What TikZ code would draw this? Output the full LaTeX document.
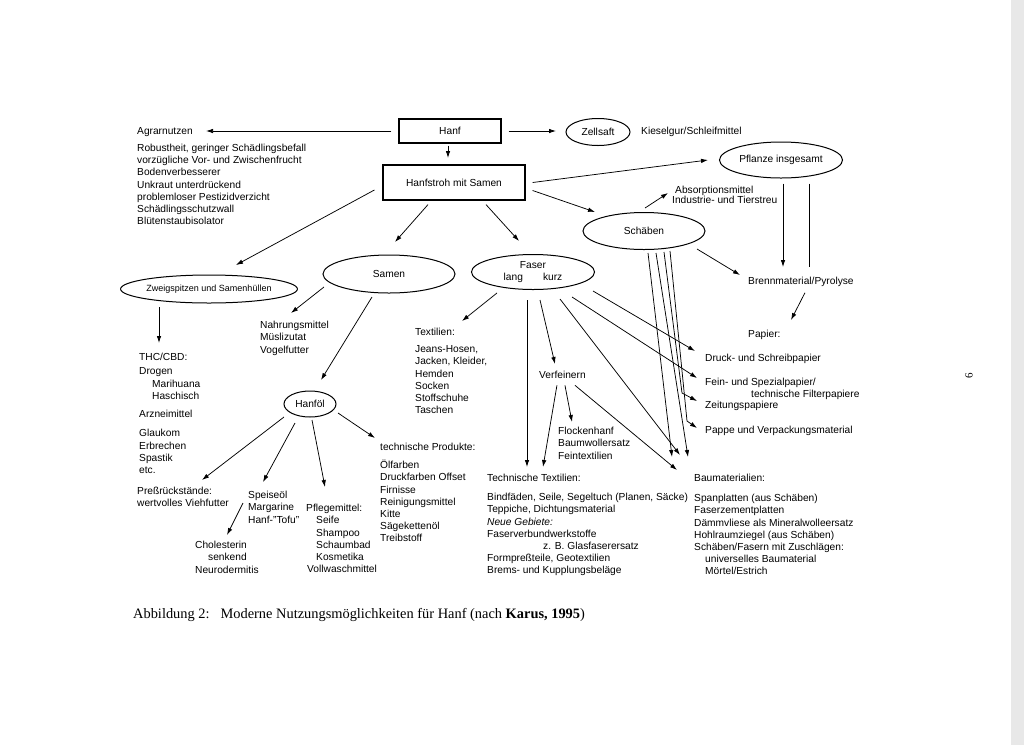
\documentclass[tikz,border=0pt]{standalone}
\usepackage{fontspec}
\setmainfont{Liberation Serif}
\setsansfont{Liberation Sans}
\usetikzlibrary{arrows.meta,shapes.geometric}
\tikzset{
  txt/.style={font=\sffamily\fontsize{10.2}{12.2}\selectfont,inner sep=0pt,align=left,anchor=north west,execute at begin node=\strut},
  word/.style={font=\sffamily\fontsize{10.2}{12.2}\selectfont,inner sep=0pt,anchor=base west},
  box/.style={draw,line width=1.2pt,inner sep=0pt,font=\sffamily\fontsize{10.2}{12.2}\selectfont},
  oval/.style={draw,ellipse,line width=1pt,inner sep=0pt,font=\sffamily\fontsize{10.2}{12.2}\selectfont},
  link/.style={-{Latex[length=7pt,width=4.5pt]},line width=0.75pt},
  bare/.style={line width=0.75pt}
}
\begin{document}
\begin{tikzpicture}[x=1pt,y=-1pt]
  \fill[white] (0,0) rectangle (1024,745);
  \useasboundingbox (0,0) rectangle (1024,745);
  \fill[black!9] (1011,0) rectangle (1024,745);

  \node[box,minimum width=102pt,minimum height=24pt] (hanf) at (450,131) {Hanf};
  \node[box,minimum width=142pt,minimum height=35pt] (stroh) at (454,182.5) {Hanfstroh mit Samen};
  \node[oval,minimum width=64pt,minimum height=27pt] (zellsaft) at (598,132) {Zellsaft};
  \node[oval,minimum width=123pt,minimum height=36pt] (pflanze) at (781,160) {Pflanze insgesamt};
  \node[oval,minimum width=122pt,minimum height=37pt] (schaeben) at (644,231) {Schäben};
  \node[oval,minimum width=147pt,minimum height=28pt,font=\sffamily\fontsize{9}{11}\selectfont] (zweig) at (209,289) {Zweigspitzen und Samenhüllen};
  \node[oval,minimum width=132pt,minimum height=38pt] (samen) at (389,274) {Samen};
  \node[oval,minimum width=123pt,minimum height=35pt,align=center] (faser) at (533,272) {Faser\\lang\hspace{20pt}kurz};
  \node[oval,minimum width=52pt,minimum height=26pt] (hanfoel) at (310,404) {Hanföl};

  \node[word] (agrar) at (137,134.5) {Agrarnutzen};
  \node[word] (kiesel) at (641,134.5) {Kieselgur/Schleifmittel};
  \node[word] (brenn) at (748,284.5) {Brennmaterial/Pyrolyse};
  \node[word] (papier) at (748,337.5) {Papier:};
  \node[word] (druck) at (705,361.5) {Druck- und Schreibpapier};
  \node[word] (fein) at (705,385.5) {Fein- und Spezialpapier/};
  \node[word] (filter) at (751,397.5) {technische Filterpapiere};
  \node[word] (zeitung) at (705,408.5) {Zeitungspapiere};
  \node[word] (pappe) at (705,433.5) {Pappe und Verpackungsmaterial};
  \node[word] (verf) at (539,378.5) {Verfeinern};

  \node[txt] (agrarlist) at (137,144) {Robustheit, geringer Schädlingsbefall\\
    vorzügliche Vor- und Zwischenfrucht\\Bodenverbesserer\\Unkraut unterdrückend\\
    problemloser Pestizidverzicht\\Schädlingsschutzwall\\Blütenstaubisolator};
  \node[txt] (absorb) at (672,186) {\hspace*{3pt}Absorptionsmittel\\[-2.2pt]Industrie- und Tierstreu};
  \node[txt] (thc) at (139,353) {THC/CBD:\\[1.8pt]Drogen\\[0.8pt]\hspace*{13pt}Marihuana\\
    \hspace*{13pt}Haschisch\\[5.8pt]Arzneimittel\\[6.8pt]Glaukom\\Erbrechen\\Spastik\\etc.};
  \node[txt] (nahrung) at (260,321) {Nahrungsmittel\\Müslizutat\\Vogelfutter};
  \node[txt] (textil) at (415,328) {Textilien:\\[4.8pt]Jeans-Hosen,\\Jacken, Kleider,\\
    Hemden\\Socken\\Stoffschuhe\\Taschen};
  \node[txt] (flocken) at (558,427) {Flockenhanf\\Baumwollersatz\\Feintextilien};
  \node[txt] (techprod) at (380,443) {technische Produkte:\\[5.8pt]Ölfarben\\Druckfarben Offset\\
    Firnisse\\Reinigungsmittel\\Kitte\\Sägekettenöl\\Treibstoff};
  \node[txt] (press) at (137,487) {Preßrückstände:\\wertvolles Viehfutter};
  \node[txt] (speise) at (248,491) {Speiseöl\\Margarine\\Hanf-"Tofu"};
  \node[txt] (chol) at (195,541) {Cholesterin\\\hspace*{13pt}senkend\\Neurodermitis};
  \node[txt] (pflege) at (306,504) {Pflegemittel:\\\hspace*{10pt}Seife\\\hspace*{10pt}Shampoo\\
    \hspace*{10pt}Schaumbad\\\hspace*{10pt}Kosmetika\\\hspace*{1pt}Vollwaschmittel};
  \node[txt] (techtex) at (487,474) {Technische Textilien:\\[6.8pt]
    Bindfäden, Seile, Segeltuch (Planen, Säcke)\\Teppiche, Dichtungsmaterial\\
    \textit{Neue Gebiete:}\\Faserverbundwerkstoffe\\\hspace*{56pt}z. B. Glasfaserersatz\\
    Formpreßteile, Geotextilien\\Brems- und Kupplungsbeläge};
  \node[txt] (bau) at (694,474) {Baumaterialien:\\[7.8pt]Spanplatten (aus Schäben)\\
    Faserzementplatten\\Dämmvliese als Mineralwolleersatz\\Hohlraumziegel (aus Schäben)\\
    Schäben/Fasern mit Zuschlägen:\\\hspace*{11pt}universelles Baumaterial\\\hspace*{11pt}Mörtel/Estrich};

  \node[font=\fontsize{14.4}{17}\selectfont,inner sep=0pt,anchor=base west] (caption) at (133,618)
    {Abbildung 2:\hspace{11pt}Moderne Nutzungsmöglichkeiten für Hanf (nach \textbf{Karus, 1995})};
  \node[font=\fontsize{11}{13}\selectfont,rotate=90,inner sep=0pt] (pagenum) at (969,376) {6};

  \coordinate (tAgrar) at (206,131);
  \coordinate (tZell) at (556,131);
  \coordinate (tStroh) at (448,158);
  \coordinate (tPflanze) at (708,160);
  \coordinate (tSchaeben) at (595,212);
  \coordinate (tAbsorb) at (668,193);
  \coordinate (tBrenn) at (783,267);
  \coordinate (eBrenn) at (809,267);
  \coordinate (tBrennS) at (740,275);
  \coordinate (tPapier) at (791,320);
  \coordinate (tDruck) at (695,351);
  \coordinate (tFein) at (697,378);
  \coordinate (kZeitung) at (682,393);
  \coordinate (tZeitung) at (697,401);
  \coordinate (kPappe) at (687,421);
  \coordinate (tPappe) at (697,428);
  \coordinate (tBauS) at (672,457);
  \coordinate (tBauT) at (688,457);
  \coordinate (tBauF) at (680,455);
  \coordinate (tBauV) at (677,470);
  \coordinate (tZweig) at (236,265);
  \coordinate (tSamen) at (395,242);
  \coordinate (tFaser) at (519,241);
  \coordinate (tThc) at (159,343);
  \coordinate (tNahrung) at (291,313);
  \coordinate (tHanfoel) at (321,380);
  \coordinate (tPress) at (202,480);
  \coordinate (tSpeise) at (263,482);
  \coordinate (tPflege) at (325,487);
  \coordinate (tTechprod) at (375,438);
  \coordinate (tChol) at (227,535);
  \coordinate (tTextil) at (462,321);
  \coordinate (tTechtexF) at (527,467);
  \coordinate (tVerf) at (555,364);
  \coordinate (tTechtexV) at (543,467);
  \coordinate (tFlocken) at (572,422);

  \draw[link] ([xshift=-7pt]hanf.west) -- (tAgrar);
  \draw[link] ([xshift=7pt]hanf.east) -- (tZell);
  \draw[link] ([shift={(-2,2)}]hanf.south) -- (tStroh);
  \draw[link] ([xshift=7pt]stroh.east) -- (tPflanze);
  \draw[link] ([shift={(7,8)}]stroh.east) -- (tSchaeben);
  \draw[link] ([shift={(-8,7.5)}]stroh.west) -- (tZweig);
  \draw[link] ([shift={(-26,4)}]stroh.south) -- (tSamen);
  \draw[link] ([shift={(32,4)}]stroh.south) -- (tFaser);

  \draw[link] ([shift={(1,-4)}]schaeben.north) -- (tAbsorb);
  \draw[link] ([shift={(2,5)}]pflanze.south) -- (tBrenn);
  \draw[bare] ([shift={(28,5)}]pflanze.south) -- (eBrenn);
  \draw[link] ([shift={(53,18)}]schaeben.center) -- (tBrennS);
  \draw[link] ([shift={(4,6)}]brenn.south) -- (tPapier);

  \draw[link] ([shift={(4,22)}]schaeben.center) -- (tBauS);
  \draw[link] ([shift={(12,22)}]schaeben.center) -- (tBauT);
  \draw[link] ([shift={(20,21)}]schaeben.center) -- (kZeitung) -- (tZeitung);
  \draw[link] ([shift={(26,20)}]schaeben.center) -- (kPappe) -- (tPappe);

  \draw[link] ([shift={(-36,21)}]faser.center) -- (tTextil);
  \draw[link] ([shift={(-6,28)}]faser.center) -- (tTechtexF);
  \draw[link] ([shift={(7,28)}]faser.center) -- (tVerf);
  \draw[link] ([shift={(27,27)}]faser.center) -- (tBauF);
  \draw[link] ([shift={(39,25)}]faser.center) -- (tFein);
  \draw[link] ([shift={(60,19)}]faser.center) -- (tDruck);

  \draw[link] ([shift={(-5.5,6.5)}]verf.south) -- (tTechtexV);
  \draw[link] ([shift={(2.5,6.5)}]verf.south) -- (tFlocken);
  \draw[link] ([shift={(12.5,6.5)}]verf.south) -- (tBauV);

  \draw[link] ([shift={(-50,18)}]zweig.center) -- (tThc);
  \draw[link] ([shift={(-65,13)}]samen.center) -- (tNahrung);
  \draw[link] ([shift={(-17,23)}]samen.center) -- (tHanfoel);

  \draw[link] ([shift={(-26,13)}]hanfoel.center) -- (tPress);
  \draw[link] ([shift={(-15,19)}]hanfoel.center) -- (tSpeise);
  \draw[link] ([shift={(2,16)}]hanfoel.center) -- (tPflege);
  \draw[link] ([shift={(28,9)}]hanfoel.center) -- (tTechprod);
  \draw[link] ([shift={(-5,12)}]speise.north west) -- (tChol);
\end{tikzpicture}
\end{document}
